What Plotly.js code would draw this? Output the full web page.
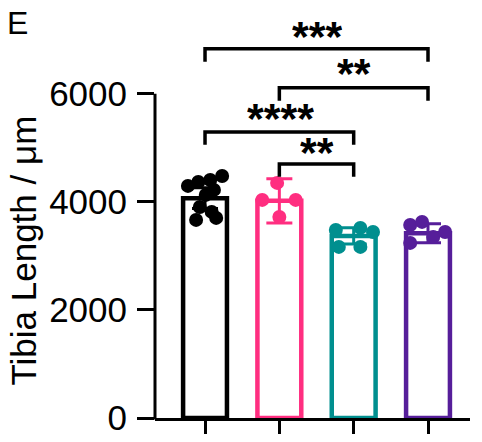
<!DOCTYPE html>
<html>
<head>
<meta charset="utf-8">
<script src="https://cdn.plot.ly/plotly-3.0.1.min.js"></script>
<style>html,body{margin:0;padding:0;background:#fff;}#chart{width:482px;height:442px;}</style>
</head>
<body>
<div id="chart"></div>
<script>
// ---- data ----
const groups = [0, 1, 2, 3];
const groupColors = ['#000000', '#FF2E80', '#008F8F', '#561E9A'];
const means = [4070, 4020, 3370, 3420];
const sds = [190, 410, 150, 175];

const blackVals = [4296, 4370, 4407, 4481, 4222, 4130, 3907, 3815, 3667, 3704];
const blackJitter = [-0.23, -0.09, 0.07, 0.23, 0.12, 0.01, -0.07, 0.09, -0.12, 0.15];
const pinkVals = [4352, 4037, 4037, 3722];
const pinkJitter = [-0.03, -0.23, 0.22, 0.0];
const tealVals = [3481, 3519, 3444, 3167, 3167];
const tealJitter = [-0.24, 0.09, 0.26, -0.2, 0.09];
const purpleVals = [3574, 3630, 3241, 3352, 3444];
const purpleJitter = [-0.24, -0.08, -0.24, 0.07, 0.23];

const yTicks = [0, 2000, 4000, 6000];
// comparisons: [from group, to group, label]
const comparisons = [
  [1, 2, '**'],
  [0, 2, '****'],
  [1, 3, '**'],
  [0, 3, '***']
];
// ---- chart ----
const yMax = 7460;
const pointSets = [
  [blackVals, blackJitter],
  [pinkVals, pinkJitter],
  [tealVals, tealJitter],
  [purpleVals, purpleJitter]
];

const traces = [];
groups.forEach((g, i) => {
  traces.push({
    type: 'bar',
    x: [g],
    y: [means[i]],
    width: 0.59,
    marker: {color: 'rgba(255,255,255,1)', line: {color: groupColors[i], width: 4.5}},
    error_y: {type: 'data', array: [sds[i]], visible: true, color: groupColors[i], thickness: 3, width: 13},
    hoverinfo: 'skip'
  });
});
pointSets.forEach((ps, i) => {
  traces.push({
    type: 'scatter',
    mode: 'markers',
    x: ps[1].map(j => groups[i] + j),
    y: ps[0],
    marker: {color: groupColors[i], size: 14},
    cliponaxis: false,
    hoverinfo: 'skip'
  });
});

// bracket geometry (data units)
const bracketY = [4704, 5296, 6111, 6833];
const legDrop = 240;
const labelY = [4926, 5556, 6389, 7074];
const shapes = [];
const annotations = [];
comparisons.forEach((c, k) => {
  const [a, b, lab] = c;
  const yb = bracketY[k];
  const line = {color: '#000', width: 3.5};
  shapes.push({type: 'path', xref: 'x', yref: 'y',
    path: `M ${a} ${yb - legDrop} L ${a} ${yb} L ${b} ${yb} L ${b} ${yb - legDrop}`,
    line: line});
  const lx = (lab === '****') ? a + 1.01 : (k === 2 ? 2.0 : (a + b) / 2);
  annotations.push({xref: 'x', yref: 'y', x: lx, y: labelY[k], text: lab, showarrow: false,
    font: {family: 'Liberation Sans, Arial, sans-serif', size: 43, color: '#000', weight: 'bold'},
    height: 28, valign: 'middle',
    xanchor: 'center', yanchor: 'middle'});
});
// y axis line from 0 to 6000
shapes.push({type: 'line', xref: 'paper', yref: 'paper', x0: 0, x1: 0, y0: -0.004, y1: 6000 / yMax,
  line: {color: '#000', width: 3}});

annotations.push({xref: 'paper', yref: 'y', x: (24 - 155) / 315, y: 3100, text: 'Tibia Length / μm',
  textangle: -90, showarrow: false, xanchor: 'center', yanchor: 'middle',
  font: {family: 'Liberation Sans, Arial, sans-serif', size: 35, color: '#000'}});
annotations.push({xref: 'paper', yref: 'paper', x: (5 - 155) / 315, y: 1 + (15 - 3) / 403, text: 'E',
  showarrow: false, xanchor: 'left', yanchor: 'top',
  font: {family: 'Liberation Sans, Arial, sans-serif', size: 32, color: '#000'}});

const layout = {
  width: 482, height: 442,
  margin: {l: 155, r: 12, t: 15, b: 24},
  paper_bgcolor: '#fff', plot_bgcolor: '#fff',
  showlegend: false,
  barmode: 'overlay',
  xaxis: {range: [-0.673, 3.565], tickvals: groups, showticklabels: false, ticks: 'outside',
    ticklen: 13, tickwidth: 3, tickcolor: '#000', showline: true, linewidth: 3, linecolor: '#000',
    showgrid: false, zeroline: false, fixedrange: true},
  yaxis: {range: [0, yMax], tickvals: yTicks, ticktext: yTicks.map(String), ticks: 'outside',
    ticklen: 17, tickwidth: 3, tickcolor: '#000', showline: false, showgrid: false, zeroline: false,
    ticklabelstandoff: 3,
    tickfont: {family: 'Liberation Sans, Arial, sans-serif', size: 35, color: '#000'}, fixedrange: true},
  shapes: shapes,
  annotations: annotations
};
Plotly.newPlot('chart', traces, layout, {displayModeBar: false, staticPlot: true});
</script>
</body>
</html>
